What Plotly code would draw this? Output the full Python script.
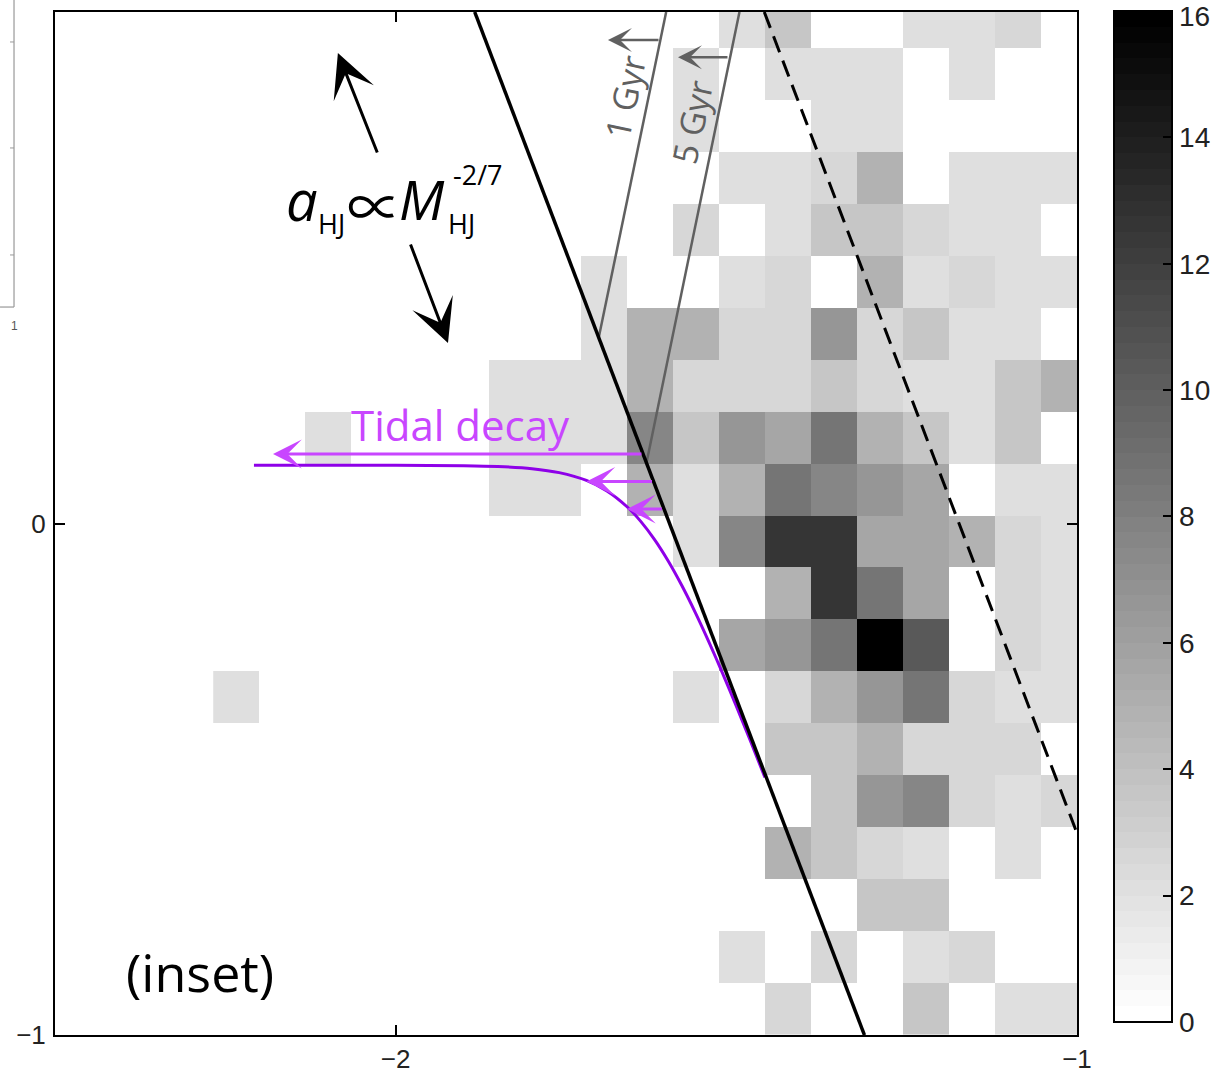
import plotly.graph_objects as go

# ---------------- data ----------------
# 2D histogram counts (rows bottom -> top, columns left -> right)
counts = [
    [0, 0, 0, 0, 0, 0, 0, 0, 0, 0, 0, 0, 2.7, 0, 0, 3.7, 0, 2.0, 2.0],
    [0, 0, 0, 0, 0, 0, 0, 0, 0, 0, 0, 2.0, 0, 2.7, 0, 2.0, 2.7, 0, 0],
    [0, 0, 0, 0, 0, 0, 0, 0, 0, 0, 0, 0, 0, 0, 3.7, 3.7, 0, 0, 0],
    [0, 0, 0, 0, 0, 0, 0, 0, 0, 0, 0, 0, 4.8, 3.7, 2.7, 2.0, 0, 2.0, 0],
    [0, 0, 0, 0, 0, 0, 0, 0, 0, 0, 0, 0, 0, 3.7, 6.6, 7.5, 2.7, 2.0, 2.7],
    [0, 0, 0, 0, 0, 0, 0, 0, 0, 0, 0, 0, 3.7, 3.7, 4.8, 2.7, 2.7, 2.7, 0],
    [2.0, 0, 0, 0, 0, 0, 0, 0, 0, 0, 2.0, 0, 2.7, 4.8, 6.6, 8.5, 2.7, 2.0, 2.0],
    [0, 0, 0, 0, 0, 0, 0, 0, 0, 0, 0, 5.7, 6.6, 8.5, 16, 10.4, 0, 2.7, 2.0],
    [0, 0, 0, 0, 0, 0, 0, 0, 0, 0, 0, 0, 4.8, 12.5, 8.5, 5.7, 0, 2.7, 2.0],
    [0, 0, 0, 0, 0, 0, 0, 0, 0, 0, 2.0, 7.5, 12.5, 12.5, 5.7, 5.7, 4.8, 2.7, 2.0],
    [0, 0, 0, 0, 0, 0, 2.0, 2.0, 0, 4.8, 2.0, 4.8, 8.5, 7.5, 6.6, 5.7, 0, 2.0, 2.0],
    [0, 0, 2.0, 0, 0, 0, 2.0, 2.0, 2.0, 7.5, 3.7, 6.6, 5.7, 8.5, 4.8, 3.7, 2.0, 3.7, 0],
    [0, 0, 0, 0, 0, 0, 2.0, 2.0, 2.0, 4.8, 2.7, 2.7, 2.7, 3.7, 2.7, 2.0, 2.0, 3.7, 4.8],
    [0, 0, 0, 0, 0, 0, 0, 0, 2.0, 4.8, 4.8, 2.7, 2.7, 6.6, 2.7, 3.7, 2.0, 2.0, 0],
    [0, 0, 0, 0, 0, 0, 0, 0, 2.0, 0, 0, 2.0, 2.7, 0, 4.8, 2.0, 2.7, 2.0, 2.0],
    [0, 0, 0, 0, 0, 0, 0, 0, 0, 0, 2.7, 0, 2.0, 3.7, 3.7, 2.7, 2.0, 2.0, 0],
    [0, 0, 0, 0, 0, 0, 0, 0, 0, 0, 0, 2.0, 2.0, 2.7, 4.8, 0, 2.0, 2.0, 2.0],
    [0, 0, 0, 0, 0, 0, 0, 0, 0, 0, 2.0, 0, 0, 2.0, 2.0, 0, 0, 0, 0],
    [0, 0, 0, 0, 0, 0, 0, 0, 0, 0, 2.0, 0, 2.0, 2.0, 2.0, 0, 2.0, 0, 0],
    [0, 0, 0, 0, 0, 0, 0, 0, 0, 0, 0, 2.0, 3.7, 0, 0, 2.0, 2.0, 2.7, 0],
]

# a_HJ ∝ M_HJ^(-2/7) boundary lines (endpoints)
solid_x = [-1.884, -1.312]
solid_y = [1.0, -1.0]
dashed_x = [-1.459, -1.0]
dashed_y = [1.0, -0.6055]

# isochrones
gyr1_x = [-1.702, -1.603]
gyr1_y = [0.363, 1.0]
gyr5_x = [-1.632, -1.4954]
gyr5_y = [0.118, 1.0]

# tidal decay track
track_x = [-2.208, -2.10, -2.00, -1.90, -1.85, -1.80, -1.76, -1.72, -1.69, -1.66,
           -1.64, -1.62, -1.60, -1.58, -1.56, -1.54, -1.52, -1.50, -1.48, -1.458]
track_y = [0.114, 0.114, 0.1139, 0.1130, 0.1114, 0.1072, 0.0995, 0.0841, 0.0637, 0.0323,
           0.0037, -0.0315, -0.0733, -0.1213, -0.1746, -0.2323, -0.2934, -0.3572, -0.4228, -0.4964]

cbar_ticks = [0, 2, 4, 6, 8, 10, 12, 14, 16]
cbar_labels = ['0', '2', '4', '6', '8', '10', '12', '14', '16']

# ---------------- figure ----------------
# 64-level reversed gray colormap
NLEV = 64
gray_scale = []
for k in range(NLEV):
    g = round(255 * (1 - k / (NLEV - 1)))
    c = f'rgb({g},{g},{g})'
    gray_scale.append([k / NLEV, c])
    gray_scale.append([(k + 1) / NLEV, c])

fig = go.Figure()

fig.add_trace(go.Heatmap(
    z=counts, x0=-2.234, dx=0.0675, y0=-0.949, dy=0.1015,
    zmin=0, zmax=16,
    colorscale=gray_scale,
    hoverinfo='skip',
    colorbar=dict(
        x=1.0362, xanchor='left', xpad=0, ypad=0,
        y=1.001, yanchor='top', lenmode='pixels', len=1011,
        thickness=58, outlinewidth=2, outlinecolor='black',
        tickvals=cbar_ticks,
        # the top label is drawn separately so that it stays inside the page
        ticktext=cbar_labels[:-1] + [''],
        ticks='inside', ticklen=10, tickwidth=1.5,
        tickcolor='black', ticklabeloverflow='allow',
        tickfont=dict(family='Liberation Sans, Arial, sans-serif', size=28, color='#222'),
    ),
))

fig.add_trace(go.Scatter(x=gyr1_x, y=gyr1_y, mode='lines',
                         line=dict(color='#606060', width=2.5), hoverinfo='skip'))
fig.add_trace(go.Scatter(x=gyr5_x, y=gyr5_y, mode='lines',
                         line=dict(color='#606060', width=2.5), hoverinfo='skip'))
fig.add_trace(go.Scatter(x=dashed_x, y=dashed_y, mode='lines',
                         line=dict(color='black', width=3, dash='17px,9px'), hoverinfo='skip'))
fig.add_trace(go.Scatter(x=track_x, y=track_y, mode='lines',
                         line=dict(color='#8e00e8', width=3, shape='spline', smoothing=0.7),
                         hoverinfo='skip'))
fig.add_trace(go.Scatter(x=solid_x, y=solid_y, mode='lines',
                         line=dict(color='black', width=3.5), hoverinfo='skip'))

ann = []


def arrow(x, y, ax, ay, color, width, size):
    ann.append(dict(x=x, y=y, ax=ax, ay=ay, xref='x', yref='y', axref='x', ayref='y',
                    text='', showarrow=True, arrowhead=3, arrowsize=size,
                    arrowwidth=width, arrowcolor=color, standoff=0, startstandoff=0))


# black arrows
arrow(-2.0848, 0.9198, -2.0261, 0.7224, 'black', 3, 2.4)
arrow(-1.9232, 0.3529, -1.979, 0.5484, 'black', 3, 2.4)
# tidal decay arrows
arrow(-2.180, 0.1359, -1.637, 0.1359, '#c846ff', 3, 1.6)
arrow(-1.720, 0.0821, -1.6216, 0.0821, '#c846ff', 3, 1.6)
arrow(-1.6605, 0.0283, -1.607, 0.0283, '#c846ff', 3, 1.6)
# isochrone arrows
arrow(-1.6884, 0.9453, -1.612, 0.9453, '#606060', 2.5, 1.6)
arrow(-1.5856, 0.9115, -1.5108, 0.9115, '#606060', 2.5, 1.6)

TXT = 'Open Sans, Noto Sans, sans-serif'


def label(x, y, text, size, color='black', xanchor='center', angle=0, family=TXT):
    ann.append(dict(x=x, y=y, xref='x', yref='y', text=text, showarrow=False,
                    xanchor=xanchor, yanchor='middle', textangle=angle, borderpad=0,
                    font=dict(family=family, size=size, color=color)))


label(-1.9042, 0.1945, 'Tidal decay', 42, '#c846ff')
label(-2.2872, -0.8768, '(inset)', 52)
label(-1.6634, 0.8337, '1 Gyr', 34, '#606060', angle=-78)
label(-1.5651, 0.785, '5 Gyr', 34, '#606060', angle=-78)
# a_HJ ∝ M_HJ^-2/7
label(-2.1625, 0.6338, '<i>a</i>', 56, xanchor='left')
label(-2.1155, 0.5865, 'HJ', 27, xanchor='left')
label(-2.0305, 0.6266, '∝', 55, family='Noto Sans CJK JP, DejaVu Sans, sans-serif')
label(-1.9966, 0.6344, '<i>M</i>', 54, xanchor='left')
label(-1.9247, 0.5865, 'HJ', 27, xanchor='left')
label(-1.9174, 0.6823, '-2/7', 27, xanchor='left')

# top colour-bar label
ann.append(dict(x=1.0985, y=0.9955, xref='paper', yref='paper', text=cbar_labels[-1],
                showarrow=False, xanchor='left', yanchor='middle', borderpad=0,
                font=dict(family='Liberation Sans, Arial, sans-serif', size=28, color='#222')))

# fragment of a neighbouring panel at the left edge
ann.append(dict(x=-0.0401, y=0.702, xref='paper', yref='paper', text='1', showarrow=False,
                xanchor='center', yanchor='top',
                font=dict(family='Liberation Sans, Arial', size=12, color='#555')))

shapes = [
    dict(type='line', xref='paper', yref='paper', x0=-0.0401, x1=-0.0401, y0=1.012, y1=0.7116,
         line=dict(color='#999', width=1.2)),
    dict(type='line', xref='paper', yref='paper', x0=-0.0538, x1=-0.0401, y0=0.7116, y1=0.7116,
         line=dict(color='#999', width=1.2)),
]
for py in [0.9707, 0.8671, 0.7625]:
    shapes.append(dict(type='line', xref='paper', yref='paper', x0=-0.0440, x1=-0.0401,
                       y0=py, y1=py, line=dict(color='#999', width=1)))

axis_font = dict(family='Liberation Sans, Arial, sans-serif', size=26, color='#222')

fig.update_layout(
    width=1223, height=1077,
    margin=dict(l=55, r=146, t=12, b=42, autoexpand=False),
    paper_bgcolor='white', plot_bgcolor='white',
    showlegend=False,
    annotations=ann, shapes=shapes,
    xaxis=dict(range=[-2.5, -1], tickvals=[-2, -1], ticktext=['−2', '−1'],
               ticks='inside', ticklen=10, tickwidth=1.5, tickcolor='black',
               showline=True, linecolor='black', linewidth=2, mirror='allticks',
               showgrid=False, zeroline=False, tickfont=axis_font, ticklabelstandoff=0),
    yaxis=dict(range=[-1, 1], tickvals=[-1, 0], ticktext=['−1', '0'],
               ticks='inside', ticklen=10, tickwidth=1.5, tickcolor='black',
               showline=True, linecolor='black', linewidth=2, mirror='allticks',
               showgrid=False, zeroline=False, tickfont=axis_font, ticklabelstandoff=2),
)

fig.write_html('out.html')
